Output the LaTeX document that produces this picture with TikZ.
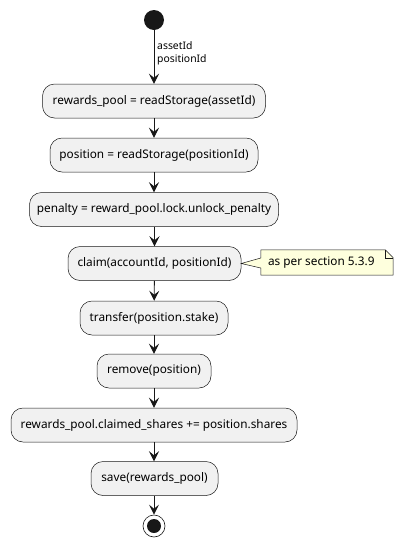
\documentclass[tikz,border=0pt]{standalone}
\usepackage{fontspec}
\setmainfont{Noto Sans}
\usetikzlibrary{arrows.meta}
\definecolor{boxfill}{HTML}{F1F1F1}
\definecolor{boxline}{HTML}{181818}
\definecolor{notefill}{HTML}{FEFFDD}
\begin{document}
\begin{tikzpicture}[x=1pt,y=-1pt,
  act/.style={draw=boxline, line width=0.5pt, fill=boxfill, rounded corners=12pt,
    minimum height=34pt, inner sep=0pt, font=\fontsize{11.8}{13}\selectfont},
  flow/.style={draw=boxline, line width=0.9pt,
    -{Stealth[length=10pt,width=10pt,inset=4pt]}},
  lbl/.style={font=\fontsize{10.4}{12}\selectfont, anchor=west, inner sep=0pt}
]
\useasboundingbox (0,0) rectangle (404,547);
\node[circle, fill=boxline, minimum size=20pt, inner sep=0pt] (start) at (154,20) {};
\node[act, minimum width=223pt] (a1) at (154,101) {rewards\_pool = readStorage(assetId)};
\node[act, minimum width=208pt] (a2) at (154,155) {position = readStorage(positionId)};
\node[act, minimum width=249pt] (a3) at (154,209.5) {penalty = reward\_pool.lock.unlock\_penalty};
\node[act, minimum width=173pt] (a4) at (154.5,263.5) {claim(accountId, positionId)};
\node[act, minimum width=148pt] (a5) at (154,318) {transfer(position.stake)};
\node[act, minimum width=114pt] (a6) at (154,371) {remove(position)};
\node[act, minimum width=286pt] (a7) at (154,425) {rewards\_pool.claimed\_shares += position.shares};
\node[act, minimum width=127pt] (a8) at (154.5,478.5) {save(rewards\_pool)};
\node[circle, draw=boxline, line width=0.6pt, fill=white, minimum size=22pt, inner sep=0pt] (stop) at (154,526) {};
\node[circle, fill=boxline, minimum size=14pt, inner sep=0pt] at (stop.center) {};
% labels on first arrow
\node[lbl] (l1) at (157,46) {assetId};
\node[lbl] (l2) at (157,60) {positionId};
% arrows
\draw[flow] (start) -- (a1);
\draw[flow] (a1) -- (a2);
\draw[flow] (a2) -- (a3);
\draw[flow] (a3.south -| a4.north) -- (a4);
\draw[flow] (a4) -- (a5);
\draw[flow] (a5) -- (a6);
\draw[flow] (a6) -- (a7);
\draw[flow] (a7) -- (a8.north -| a7.south);
\draw[flow] (a8.south -| stop.north) -- (stop);
% note
\node[minimum width=132pt, minimum height=25pt, inner sep=0pt] (note) at (327,262.5) {};
\draw[draw=boxline, line width=0.5pt, fill=notefill]
  (note.north west) -- ([xshift=-8pt]note.north east) -- ([yshift=-8pt]note.north east)
  -- (note.south east) -- (note.south west) -- ([yshift=-5.5pt]note.west)
  -- (a4.east) -- ([yshift=4.5pt]note.west) -- cycle;
\draw[draw=boxline, line width=0.5pt]
  ([xshift=-8pt]note.north east) -- ([xshift=-8pt,yshift=-8pt]note.north east) -- ([yshift=-8pt]note.north east);
\node[font=\fontsize{11.8}{13}\selectfont, inner sep=0pt, anchor=west] (notetext) at ([xshift=7pt]note.west) {as per section 5.3.9};
\end{tikzpicture}
\end{document}
